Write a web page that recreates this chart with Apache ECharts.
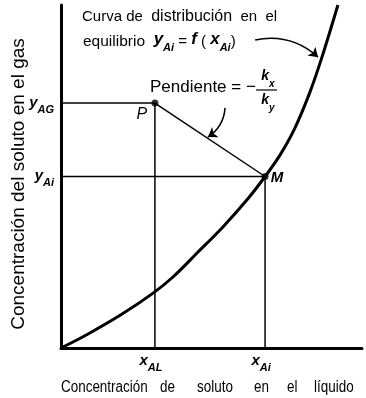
<!DOCTYPE html>
<html>
<head>
<meta charset="utf-8">
<script src="https://cdn.jsdelivr.net/npm/echarts@6/dist/echarts.min.js"></script>
<style>
html, body { margin: 0; padding: 0; background: #fff; }
#main { width: 366px; height: 398px; }
</style>
</head>
<body>
<div id="main"></div>
<script>
// equilibrium distribution curve y_Ai = f(x_Ai) (0..100 scale)
var curveX = [0, 9.0, 20.3, 30.6, 37.2, 45.2, 53.8, 61.8, 67.8, 72.8, 77.7, 82.7, 86.7, 92.0];
var curveY = [0, 4.1, 9.9, 16.0, 20.7, 27.7, 35.3, 43.2, 50.0, 56.3, 64.1, 74.6, 84.8, 100];

// bulk point P (x_AL, y_AG) and interface point M (x_Ai, y_Ai)
var pointP = [31.2, 71.4];
var pointM = [67.8, 50.0];

// annotation arrows: [from, to]
var slopeArrow = [[54.5, 70.0], [48.8, 61.5]];
var curveArrow = [[64.5, 89.8], [85.4, 84.8]];

// tick labels
var xTickNames = [['x', 'AL'], ['x', 'Ai']];
var xTickValues = [31.2, 67.8];
var yTickNames = [['y', 'AG'], ['y', 'Ai']];
var yTickValues = [71.4, 50.0];

// x axis title, word by word (it is set with wide spacing)
var xTitleWords = ['Concentración', 'de', 'soluto', 'en', 'el', 'líquido'];
var xTitleLeft = [61, 160, 197, 254, 287, 314];
var yTitle = 'Concentración del soluto en el gas';

var SANS = '"Liberation Sans", Arial, sans-serif';

var myChart = echarts.init(document.getElementById('main'));

function pairs(xs, ys) {
	var out = [];
	for (var i = 0; i < xs.length; i++) {
		out.push([xs[i], ys[i]]);
	}
	return out;
}

var axisCommon = {
	type: 'value',
	min: 0,
	max: 100,
	axisLine: { show: true, lineStyle: { color: '#000', width: 3 } },
	axisTick: { show: false },
	axisLabel: { show: false },
	splitLine: { show: false }
};

var option = {
	animation: false,
	backgroundColor: '#fff',
	grid: { left: 61, top: 5, width: 301, height: 343 },
	xAxis: axisCommon,
	yAxis: axisCommon,
	series: [
		{
			name: 'equilibrio',
			type: 'line',
			data: pairs(curveX, curveY),
			smooth: 0.35,
			symbol: 'none',
			lineStyle: { color: '#000', width: 3 },
			z: 5
		},
		{
			name: 'guia P',
			type: 'line',
			data: [[0, pointP[1]], pointP, [pointP[0], 0]],
			symbol: 'none',
			lineStyle: { color: '#000', width: 1.5 }
		},
		{
			name: 'guia M',
			type: 'line',
			data: [[0, pointM[1]], pointM, [pointM[0], 0]],
			symbol: 'none',
			lineStyle: { color: '#000', width: 1.5 }
		},
		{
			name: 'pendiente',
			type: 'line',
			data: [pointP, pointM],
			symbol: 'none',
			lineStyle: { color: '#000', width: 1.5 }
		},
		{
			name: 'puntos',
			type: 'scatter',
			data: [pointP, pointM],
			symbolSize: 7,
			itemStyle: { color: '#000' },
			z: 6
		},
		{
			name: 'flechas',
			type: 'lines',
			coordinateSystem: 'cartesian2d',
			symbol: ['none', 'arrow'],
			symbolSize: 9,
			lineStyle: { color: '#000', width: 1.5, opacity: 1 },
			data: [
				{ coords: slopeArrow, lineStyle: { curveness: 0.25 } },
				{ coords: curveArrow, lineStyle: { curveness: 0.25 } }
			],
			z: 6
		}
	]
};
myChart.setOption(option);

function subText(name, size) {
	return {
		text: '{v|' + name[0] + '}{s|' + name[1] + '}',
		align: 'center',
		verticalAlign: 'middle',
		rich: {
			v: { font: 'italic bold ' + size + 'px ' + SANS, verticalAlign: 'top', lineHeight: 20 },
			s: { font: 'italic bold ' + Math.round(size * 0.72) + 'px ' + SANS, verticalAlign: 'bottom', lineHeight: 20 }
		}
	};
}

var graphics = [];
for (var i = 0; i < xTickValues.length; i++) {
	var px = myChart.convertToPixel({ gridIndex: 0 }, [xTickValues[i], 0]);
	graphics.push({ type: 'text', x: px[0] - 4, y: px[1] + 15, style: subText(xTickNames[i], 15) });
}
for (var j = 0; j < yTickValues.length; j++) {
	var py = myChart.convertToPixel({ gridIndex: 0 }, [0, yTickValues[j]]);
	var st = subText(yTickNames[j], 15);
	st.align = 'right';
	graphics.push({ type: 'text', x: py[0] - 7, y: py[1] + 2, style: st });
}

// point labels: P sits below-left of its dot, M to the right
var pP = myChart.convertToPixel({ gridIndex: 0 }, pointP);
var pM = myChart.convertToPixel({ gridIndex: 0 }, pointM);
graphics.push({ type: 'text', x: pP[0] - 13, y: pP[1] + 11, style: { text: 'P', font: 'italic 16px ' + SANS, align: 'center', verticalAlign: 'middle' } });
graphics.push({ type: 'text', x: pM[0] + 12, y: pM[1] + 1, style: { text: 'M', font: 'italic bold 15px ' + SANS, align: 'center', verticalAlign: 'middle' } });

// curve caption
graphics.push({
	type: 'text', x: 82, y: 17,
	style: {
		text: '{a|Curva de  }{b|distribución}{a|  en  el}',
		verticalAlign: 'middle',
		rich: {
			a: { font: '15px ' + SANS },
			b: { font: '16px ' + SANS }
		}
	}
});
graphics.push({
	type: 'text', x: 83, y: 42,
	style: {
		text: '{a|equilibrio  }{v|y}{s|Ai}{o| = }{v|f}{o| ( }{v|x}{s|Ai}{o|)}',
		verticalAlign: 'middle',
		rich: {
			a: { font: '15.5px ' + SANS, lineHeight: 22, verticalAlign: 'middle' },
			o: { font: '15px ' + SANS, lineHeight: 22, verticalAlign: 'middle' },
			v: { font: 'italic bold 17px ' + SANS, lineHeight: 22, verticalAlign: 'top' },
			s: { font: 'italic bold 11px ' + SANS, lineHeight: 22, verticalAlign: 'bottom' }
		}
	}
});

// slope caption
graphics.push({ type: 'text', x: 150, y: 87, style: { text: 'Pendiente = \u2212', font: '17px ' + SANS, verticalAlign: 'middle' } });
graphics.push({ type: 'line', shape: { x1: 256, y1: 90, x2: 277, y2: 90 }, style: { stroke: '#000', lineWidth: 1.2 } });
graphics.push({ type: 'text', x: 268, y: 79, style: subText(['k', 'x'], 14) });
graphics.push({ type: 'text', x: 268, y: 103, style: subText(['k', 'y'], 14) });

// axis titles
for (var w = 0; w < xTitleWords.length; w++) {
	graphics.push({
		type: 'text', x: xTitleLeft[w], y: 388, scaleX: 0.84,
		style: { text: xTitleWords[w], font: '16px ' + SANS, verticalAlign: 'middle' }
	});
}
graphics.push({ type: 'text', x: 19, y: 184, rotation: Math.PI / 2, style: { text: yTitle, font: '19px ' + SANS, align: 'center', verticalAlign: 'middle' } });

myChart.setOption({ graphic: graphics });
</script>
</body>
</html>
